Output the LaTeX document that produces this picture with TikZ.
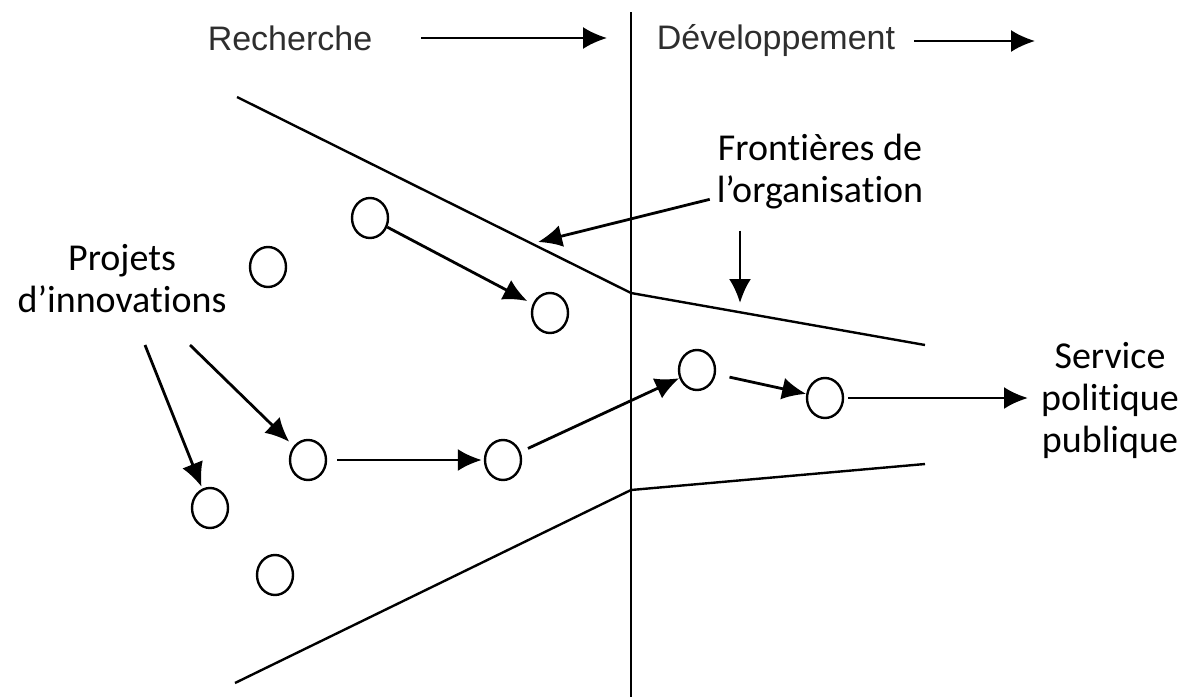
\documentclass[tikz,border=0pt]{standalone}
\usepackage{fontspec}
\setmainfont{Carlito}[Ligatures=NoCommon]
\newfontfamily\headfont{Liberation Sans}
\usetikzlibrary{arrows.meta, shapes.geometric}

\begin{document}
\begin{tikzpicture}[
x=0.5pt, y=-0.5pt,
proj/.style={draw,
ellipse,
line width=1.2pt,
minimum width=18pt,
minimum height=20pt,
inner sep=0pt},
arrow/.style={-{Latex[length=12pt, width=11pt]}, line width=1.4pt},
bound/.style={line width=1.2pt},
lbl/.style={font=\fontsize{19}{21}\selectfont, align=center},
phase/.style={font=\headfont\fontsize{17}{20}\selectfont, text=black!82}
]

\useasboundingbox (0,0) rectangle (1195,697);

% phases
\node[phase] (rech) at (290,38) {Recherche};
\node[phase] (dev) at (776,41) {Développement};
\coordinate (rechend) at (607,38);
\coordinate (devend) at (1035,41);
\draw[arrow, line width=1.2pt, shorten <=21pt] (rech) -- (rechend);
\draw[arrow, line width=1.2pt, shorten <=6pt] (dev) -- (devend);

% divider and boundaries
\coordinate (divtop) at (631,12);
\coordinate (divbot) at (631,697);
\draw[bound] (divtop) -- (divbot);
\coordinate (up1) at (237,97);
\coordinate (up2) at (631,293);
\coordinate (up3) at (925,345);
\coordinate (lo1) at (235,683);
\coordinate (lo2) at (631,490);
\coordinate (lo3) at (925,464);
\draw[bound] (up1) -- (up2) -- (up3);
\draw[bound] (lo1) -- (lo2) -- (lo3);

% projects
\node[proj] (p1) at (370,218) {};
\node[proj] (p2) at (268,267) {};
\node[proj] (p3) at (550,313) {};
\node[proj] (p4) at (308,460) {};
\node[proj] (p5) at (503,460) {};
\node[proj] (p6) at (697,370) {};
\node[proj] (p7) at (825,398) {};
\node[proj] (p8) at (210,508) {};
\node[proj] (p9) at (275,575) {};

\draw[arrow, shorten >=3pt] (p1) -- (p3);
\draw[arrow, shorten <=5pt, shorten >=1pt] (p4) -- (p5);
\draw[arrow, shorten <=4pt] (p5) -- (p6);
\draw[arrow, shorten <=7pt] (p6) -- (p7);

% labels
\node[lbl] (projets) at (122,279) {Projets\\d’innovations};
\node[lbl] (front) at (820,172) {Frontières de\\l’organisation};
\node[lbl] (service) at (1110,400) {Service\\politique\\publique};

\coordinate (pa) at (190,345);
\coordinate (pb) at (145,345);
\draw[arrow, shorten >=3pt] (pa) -- (p4);
\draw[arrow, shorten >=1pt] (pb) -- (p8);

\coordinate (fa) at (538,242);
\coordinate (fb) at (740,303);
\draw[arrow] (front) -- (fa);
\draw[arrow] (front.south -| fb) ++(0,14) -- (fb);

\coordinate (sv) at (1028,398);
\draw[arrow, shorten <=2pt] (p7) -- (sv);

\end{tikzpicture}
\end{document}
